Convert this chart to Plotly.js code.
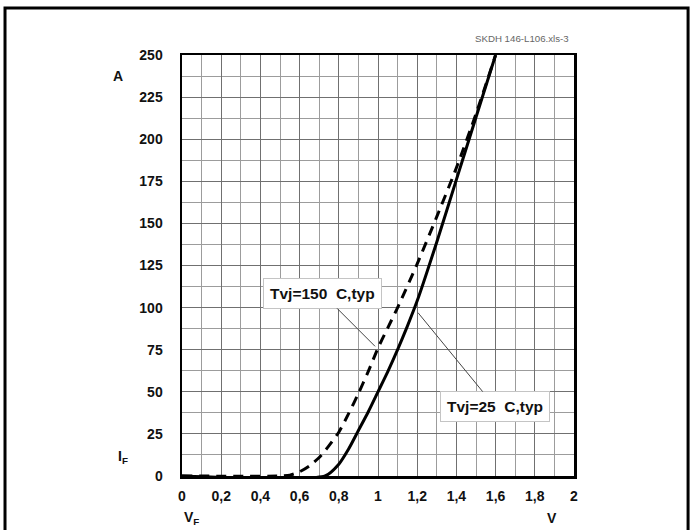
<!DOCTYPE html>
<html>
<head>
<meta charset="utf-8">
<script src="https://cdn.plot.ly/plotly-3.0.1.min.js"></script>
<style>html,body{margin:0;padding:0;background:#fff;}#chart{width:692px;height:530px;}</style>
</head>
<body>
<div id="chart"></div>
<script>
// Forward characteristic, Tvj = 25 °C (solid)
const vf25 = [0, 0.73, 0.8, 0.85, 0.9, 0.95, 1.0, 1.05, 1.1, 1.15, 1.2, 1.3, 1.4, 1.5, 1.6];
const if25 = [0, 0, 7, 16, 27, 38, 50, 62, 75, 89, 104, 139, 176, 213, 250];
// Forward characteristic, Tvj = 150 °C (dashed)
const vf150 = [0, 0.5, 0.55, 0.6, 0.65, 0.7, 0.75, 0.8, 0.85, 0.9, 0.95, 1.0, 1.05, 1.1, 1.2, 1.3, 1.4, 1.5, 1.6];
const if150 = [0, 0, 0.5, 2.5, 6, 11, 18, 26, 37, 49, 62, 76, 88, 100, 126, 154, 183, 215, 250];

const xTickVals = [0, 0.2, 0.4, 0.6, 0.8, 1, 1.2, 1.4, 1.6, 1.8, 2];
const xTickText = ['0', '0,2', '0,4', '0,6', '0,8', '1', '1,2', '1,4', '1,6', '1,8', '2'];
const yTickVals = [0, 25, 50, 75, 100, 125, 150, 175, 200, 225, 250];
const yTickText = ['0', '25', '50', '75', '100', '125', '150', '175', '200', '225', '250'];

const FONT = 'Liberation Sans, Arial, sans-serif';

const traces = [
  {x: vf150, y: if150, mode: 'lines', line: {color: '#000', width: 3, dash: '10px,7px', shape: 'spline', smoothing: 0.6}, hoverinfo: 'skip'},
  {x: vf25, y: if25, mode: 'lines', line: {color: '#000', width: 3, shape: 'spline', smoothing: 0.6}, hoverinfo: 'skip'}
];

const lbl = (x, y, text, size, extra) => Object.assign({
  xref: 'paper', yref: 'paper', x: x, y: y, text: text, showarrow: false,
  xanchor: 'center', yanchor: 'middle',
  font: {family: FONT, size: size, weight: 'bold', color: '#111'}
}, extra || {});

const layout = {
  width: 692, height: 530,
  margin: {l: 182, r: 118, t: 55, b: 54},
  paper_bgcolor: '#fff', plot_bgcolor: '#fff',
  showlegend: false,
  font: {family: FONT, color: '#000'},
  xaxis: {
    range: [0, 2], tickvals: xTickVals, ticktext: xTickText,
    tickfont: {family: FONT, size: 14, weight: 'bold', color: '#111'},
    showgrid: true, gridcolor: '#707070', gridwidth: 1,
    minor: {dtick: 0.1, showgrid: true, gridcolor: '#9c9c9c', gridwidth: 1},
    showline: true, linecolor: '#000', linewidth: 2.5, mirror: true,
    zeroline: false, ticks: '', ticklabelstandoff: 6, fixedrange: true
  },
  yaxis: {
    range: [0, 250], tickvals: yTickVals, ticktext: yTickText,
    tickfont: {family: FONT, size: 14, weight: 'bold', color: '#111'},
    showgrid: true, gridcolor: '#707070', gridwidth: 1,
    minor: {dtick: 12.5, showgrid: true, gridcolor: '#9c9c9c', gridwidth: 1},
    showline: true, linecolor: '#000', linewidth: 2.5, mirror: true,
    zeroline: false, ticks: '', ticklabelstandoff: 14, fixedrange: true
  },
  shapes: [
    {type: 'rect', xref: 'paper', yref: 'paper', x0: -0.4515, x1: 1.291, y0: -0.16, y1: 1.1116,
     line: {color: '#000', width: 3}, fillcolor: 'rgba(0,0,0,0)', layer: 'below'}
  ],
  annotations: [
    lbl(0.867, 1.040, 'SKDH 146-L106.xls-3', 9.7, {font: {family: FONT, size: 9.7, color: '#666'}}),
    lbl(-0.163, 0.950, 'A', 14),
    lbl(-0.15, 0.045, 'I<sub>F</sub>', 14),
    lbl(0.025, -0.10, 'V<sub>F</sub>', 14),
    lbl(0.945, -0.10, 'V', 14),
    {x: 0.985, y: 77, xref: 'x', yref: 'y', text: 'Tvj=150  C,typ',
     showarrow: true, arrowhead: 0, arrowwidth: 1, arrowcolor: '#444', ax: -53, ay: -53,
     bgcolor: '#fff', bordercolor: '#c4c4c4', borderwidth: 1, borderpad: 6,
     font: {family: FONT, size: 15.5, weight: 'bold', color: '#111'}},
    {x: 1.204, y: 97, xref: 'x', yref: 'y', text: 'Tvj=25  C,typ',
     showarrow: true, arrowhead: 0, arrowwidth: 1, arrowcolor: '#444', ax: 77, ay: 94,
     bgcolor: '#fff', bordercolor: '#c4c4c4', borderwidth: 1, borderpad: 6,
     font: {family: FONT, size: 15.5, weight: 'bold', color: '#111'}}
  ]
};

Plotly.newPlot('chart', traces, layout, {staticPlot: true, displayModeBar: false});
</script>
</body>
</html>
